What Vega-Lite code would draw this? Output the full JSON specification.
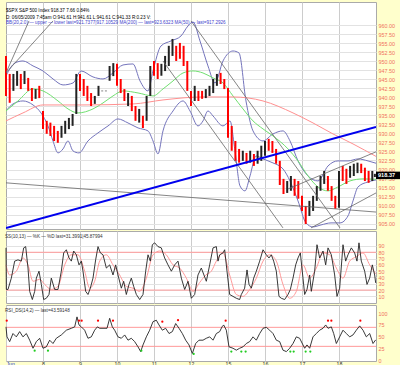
{
"$schema":"https://vega.github.io/schema/vega-lite/v6.json",
"background":"#FFFFCC",
"padding":{"left":3,"top":1,"right":0,"bottom":0},
"spacing":0,
"resolve":{"scale":{"color":"independent"}},
"config":{
 "view":{"stroke":"#AAAAAA","fill":"#FFFFFF"},
 "font":"Liberation Sans",
 "axis":{"labelFont":"Liberation Sans","labelFontSize":5.4,"gridColor":"#DDDDDD","gridWidth":1,"domain":false,"ticks":false,"labelOverlap":false}
},
"datasets":{
"px":[
{"t":0.0,"p2":951.5,"p":940.4,"c":"dn"},{"t":0.1,"p2":946.5,"p":938.5,"c":"dn"},{"t":0.2,"p2":946.5,"p":941.8,"c":"up"},{"t":0.3,"p2":947.3,"p":943.2,"c":"up"},{"t":0.4,"p2":946.5,"p":942.3,"c":"dn"},{"t":0.5,"p2":947.3,"p":943.7,"c":"up"},{"t":0.6,"p2":945.4,"p":941.8,"c":"dn"},{"t":0.7,"p2":942.6,"p":939.0,"c":"dn"},{"t":0.8,"p2":942.3,"p":939.6,"c":"up"},{"t":0.9,"p2":943.2,"p":939.8,"c":"dn"},
{"t":1.0,"p2":936.2,"p":931.2,"c":"dn"},{"t":1.1,"p2":933.5,"p":929.9,"c":"dn"},{"t":1.2,"p2":933.0,"p":929.3,"c":"dn"},{"t":1.3,"p2":932.1,"p":927.9,"c":"dn"},{"t":1.4,"p2":930.7,"p":927.4,"c":"dn"},{"t":1.5,"p2":932.1,"p":928.8,"c":"up"},{"t":1.6,"p2":933.5,"p":929.9,"c":"up"},{"t":1.7,"p2":934.3,"p":931.2,"c":"up"},{"t":1.8,"p2":935.4,"p":932.1,"c":"up"},{"t":1.9,"p2":946.5,"p":935.4,"c":"up"},
{"t":2.0,"p2":946.5,"p":941.8,"c":"dn"},{"t":2.1,"p2":945.1,"p":940.4,"c":"dn"},{"t":2.2,"p2":943.2,"p":939.0,"c":"dn"},{"t":2.3,"p2":941.2,"p":937.6,"c":"dn"},{"t":2.4,"p2":940.4,"p":938.2,"c":"up"},{"t":2.5,"p2":943.2,"p":940.4,"c":"up"},{"t":2.6,"p2":942.0,"p":941.6,"c":"flat"},{"t":2.7,"p2":942.0,"p":941.6,"c":"flat"},{"t":2.8,"p2":948.7,"p":944.6,"c":"up"},{"t":2.9,"p2":949.5,"p":945.9,"c":"up"},
{"t":3.0,"p2":949.3,"p":943.2,"c":"dn"},{"t":3.1,"p2":945.1,"p":941.2,"c":"dn"},{"t":3.2,"p2":942.3,"p":939.0,"c":"dn"},{"t":3.3,"p2":941.2,"p":937.6,"c":"up"},{"t":3.4,"p2":940.4,"p":936.2,"c":"dn"},{"t":3.5,"p2":937.6,"p":933.5,"c":"dn"},{"t":3.6,"p2":936.8,"p":933.0,"c":"up"},{"t":3.7,"p2":934.9,"p":931.5,"c":"dn"},{"t":3.8,"p2":940.4,"p":933.5,"c":"up"},{"t":3.9,"p2":948.7,"p":940.4,"c":"up"},
{"t":4.0,"p2":950.1,"p":946.0,"c":"dn"},{"t":4.1,"p2":949.5,"p":945.1,"c":"dn"},{"t":4.2,"p2":949.3,"p":946.0,"c":"up"},{"t":4.3,"p2":951.5,"p":947.3,"c":"up"},{"t":4.4,"p2":954.3,"p":948.7,"c":"up"},{"t":4.5,"p2":956.2,"p":951.5,"c":"up"},{"t":4.6,"p2":954.3,"p":950.1,"c":"dn"},{"t":4.7,"p2":955.1,"p":950.7,"c":"dn"},{"t":4.8,"p2":954.3,"p":948.7,"c":"dn"},{"t":4.9,"p2":950.1,"p":941.8,"c":"dn"},
{"t":5.0,"p2":941.8,"p":937.6,"c":"dn"},{"t":5.1,"p2":943.2,"p":939.0,"c":"up"},{"t":5.2,"p2":941.8,"p":939.0,"c":"dn"},{"t":5.3,"p2":941.8,"p":939.6,"c":"dn"},{"t":5.4,"p2":942.3,"p":939.8,"c":"up"},{"t":5.5,"p2":943.2,"p":940.4,"c":"up"},{"t":5.6,"p2":945.1,"p":941.2,"c":"up"},{"t":5.7,"p2":946.5,"p":943.2,"c":"up"},{"t":5.8,"p2":946.8,"p":943.7,"c":"dn"},{"t":5.9,"p2":945.1,"p":942.3,"c":"dn"},
{"t":6.0,"p2":942.6,"p":928.8,"c":"dn"},{"t":6.1,"p2":932.1,"p":925.2,"c":"dn"},{"t":6.2,"p2":927.9,"p":922.4,"c":"dn"},{"t":6.3,"p2":925.7,"p":921.9,"c":"dn"},{"t":6.4,"p2":925.2,"p":922.4,"c":"up"},{"t":6.5,"p2":924.6,"p":921.6,"c":"dn"},{"t":6.6,"p2":925.2,"p":921.9,"c":"up"},{"t":6.7,"p2":924.3,"p":921.0,"c":"dn"},{"t":6.8,"p2":925.2,"p":921.6,"c":"up"},{"t":6.9,"p2":926.6,"p":922.4,"c":"up"},
{"t":7.0,"p2":927.9,"p":923.8,"c":"up"},{"t":7.1,"p2":928.5,"p":925.2,"c":"dn"},{"t":7.2,"p2":927.9,"p":924.6,"c":"dn"},{"t":7.3,"p2":925.7,"p":921.6,"c":"dn"},{"t":7.4,"p2":922.4,"p":915.7,"c":"dn"},{"t":7.5,"p2":917.4,"p":913.2,"c":"dn"},{"t":7.6,"p2":916.8,"p":913.5,"c":"up"},{"t":7.7,"p2":918.2,"p":914.1,"c":"up"},{"t":7.8,"p2":917.4,"p":912.7,"c":"dn"},{"t":7.9,"p2":916.8,"p":911.9,"c":"dn"},
{"t":8.0,"p2":912.7,"p":908.5,"c":"dn"},{"t":8.1,"p2":909.9,"p":904.9,"c":"dn"},{"t":8.2,"p2":911.3,"p":907.1,"c":"up"},{"t":8.3,"p2":912.7,"p":908.5,"c":"up"},{"t":8.4,"p2":915.4,"p":911.3,"c":"up"},{"t":8.5,"p2":918.2,"p":914.1,"c":"up"},{"t":8.6,"p2":919.6,"p":916.0,"c":"up"},{"t":8.7,"p2":918.2,"p":914.1,"c":"dn"},{"t":8.8,"p2":915.4,"p":911.3,"c":"dn"},{"t":8.9,"p2":912.7,"p":909.1,"c":"dn"},
{"t":9.0,"p2":919.6,"p":909.4,"c":"up"},{"t":9.1,"p2":921.0,"p":916.8,"c":"dn"},{"t":9.2,"p2":920.2,"p":916.0,"c":"dn"},{"t":9.3,"p2":921.0,"p":917.7,"c":"up"},{"t":9.4,"p2":921.6,"p":918.2,"c":"up"},{"t":9.5,"p2":921.9,"p":919.0,"c":"up"},{"t":9.6,"p2":921.6,"p":919.0,"c":"dn"},{"t":9.7,"p2":920.5,"p":916.8,"c":"dn"},{"t":9.8,"p2":919.6,"p":916.3,"c":"dn"},{"t":9.9,"p2":919.6,"p":916.8,"c":"up"},{"t":9.97,"p2":918.8,"p":917.9,"c":"up"}
],
"curves":[
{"k":"bbu","t":0,"p":945.95},{"k":"bbu","t":0.243,"p":949.55},{"k":"bbu","t":0.459,"p":950.1},{"k":"bbu","t":0.73,"p":948.72},{"k":"bbu","t":1.0,"p":947.33},{"k":"bbu","t":1.27,"p":945.11},{"k":"bbu","t":1.541,"p":943.45},{"k":"bbu","t":1.811,"p":944.0},{"k":"bbu","t":2.027,"p":947.33},{"k":"bbu","t":2.351,"p":945.67},{"k":"bbu","t":2.622,"p":945.11},{"k":"bbu","t":2.892,"p":946.77},{"k":"bbu","t":3.162,"p":948.99},{"k":"bbu","t":3.432,"p":949.27},{"k":"bbu","t":3.622,"p":944.56},{"k":"bbu","t":3.838,"p":941.79},{"k":"bbu","t":3.973,"p":947.33},{"k":"bbu","t":4.189,"p":954.26},{"k":"bbu","t":4.459,"p":955.65},{"k":"bbu","t":4.73,"p":957.03},{"k":"bbu","t":4.919,"p":959.81},{"k":"bbu","t":5.054,"p":960.91},{"k":"bbu","t":5.243,"p":955.65},{"k":"bbu","t":5.459,"p":948.72},{"k":"bbu","t":5.649,"p":944.0},{"k":"bbu","t":5.865,"p":950.1},{"k":"bbu","t":6.135,"p":952.87},{"k":"bbu","t":6.297,"p":952.32},{"k":"bbu","t":6.486,"p":939.01},{"k":"bbu","t":6.676,"p":930.7},{"k":"bbu","t":6.946,"p":927.92},{"k":"bbu","t":7.216,"p":929.86},{"k":"bbu","t":7.486,"p":930.7},{"k":"bbu","t":7.676,"p":927.92},{"k":"bbu","t":7.892,"p":922.38},{"k":"bbu","t":8.162,"p":918.22},{"k":"bbu","t":8.432,"p":916.83},{"k":"bbu","t":8.703,"p":920.99},{"k":"bbu","t":8.973,"p":922.38},{"k":"bbu","t":9.243,"p":922.38},{"k":"bbu","t":9.514,"p":922.93},{"k":"bbu","t":9.784,"p":922.38},{"k":"bbu","t":10.0,"p":921.74},
{"k":"bbl","t":0,"p":936.24},{"k":"bbl","t":0.189,"p":938.18},{"k":"bbl","t":0.459,"p":939.01},{"k":"bbl","t":0.73,"p":937.9},{"k":"bbl","t":0.946,"p":935.69},{"k":"bbl","t":1.135,"p":932.08},{"k":"bbl","t":1.27,"p":927.92},{"k":"bbl","t":1.405,"p":924.6},{"k":"bbl","t":1.541,"p":925.71},{"k":"bbl","t":1.676,"p":927.92},{"k":"bbl","t":1.811,"p":925.15},{"k":"bbl","t":1.973,"p":924.6},{"k":"bbl","t":2.216,"p":927.92},{"k":"bbl","t":2.486,"p":930.14},{"k":"bbl","t":2.757,"p":932.08},{"k":"bbl","t":3.027,"p":934.02},{"k":"bbl","t":3.297,"p":932.91},{"k":"bbl","t":3.568,"p":931.53},{"k":"bbl","t":3.838,"p":930.7},{"k":"bbl","t":3.973,"p":927.92},{"k":"bbl","t":4.108,"p":924.32},{"k":"bbl","t":4.243,"p":930.7},{"k":"bbl","t":4.514,"p":936.24},{"k":"bbl","t":4.784,"p":939.01},{"k":"bbl","t":4.973,"p":936.24},{"k":"bbl","t":5.189,"p":932.08},{"k":"bbl","t":5.324,"p":933.47},{"k":"bbl","t":5.459,"p":936.24},{"k":"bbl","t":5.595,"p":934.85},{"k":"bbl","t":5.865,"p":932.08},{"k":"bbl","t":6.054,"p":933.47},{"k":"bbl","t":6.189,"p":925.15},{"k":"bbl","t":6.324,"p":915.45},{"k":"bbl","t":6.459,"p":914.06},{"k":"bbl","t":6.595,"p":918.22},{"k":"bbl","t":6.757,"p":923.76},{"k":"bbl","t":6.946,"p":922.93},{"k":"bbl","t":7.216,"p":921.82},{"k":"bbl","t":7.486,"p":920.16},{"k":"bbl","t":7.676,"p":916.83},{"k":"bbl","t":7.892,"p":911.29},{"k":"bbl","t":8.108,"p":905.19},{"k":"bbl","t":8.297,"p":904.08},{"k":"bbl","t":8.514,"p":904.63},{"k":"bbl","t":8.784,"p":905.19},{"k":"bbl","t":9.027,"p":905.19},{"k":"bbl","t":9.243,"p":907.13},{"k":"bbl","t":9.378,"p":911.29},{"k":"bbl","t":9.514,"p":915.17},{"k":"bbl","t":9.784,"p":916.56},{"k":"bbl","t":10.0,"p":917.11},
{"k":"ma50","t":0,"p":936.24},{"k":"ma50","t":0.324,"p":939.01},{"k":"ma50","t":0.73,"p":942.34},{"k":"ma50","t":1.0,"p":941.79},{"k":"ma50","t":1.405,"p":939.01},{"k":"ma50","t":1.676,"p":936.8},{"k":"ma50","t":1.946,"p":935.69},{"k":"ma50","t":2.351,"p":936.8},{"k":"ma50","t":2.622,"p":938.46},{"k":"ma50","t":2.892,"p":940.4},{"k":"ma50","t":3.162,"p":941.79},{"k":"ma50","t":3.568,"p":941.23},{"k":"ma50","t":3.973,"p":940.4},{"k":"ma50","t":4.243,"p":942.34},{"k":"ma50","t":4.514,"p":944.56},{"k":"ma50","t":4.784,"p":946.77},{"k":"ma50","t":5.054,"p":947.33},{"k":"ma50","t":5.324,"p":946.77},{"k":"ma50","t":5.595,"p":945.39},{"k":"ma50","t":5.865,"p":944.0},{"k":"ma50","t":6.135,"p":940.4},{"k":"ma50","t":6.405,"p":936.8},{"k":"ma50","t":6.676,"p":933.47},{"k":"ma50","t":6.946,"p":931.25},{"k":"ma50","t":7.216,"p":929.31},{"k":"ma50","t":7.622,"p":925.71},{"k":"ma50","t":7.892,"p":922.38},{"k":"ma50","t":8.162,"p":918.22},{"k":"ma50","t":8.432,"p":915.17},{"k":"ma50","t":8.703,"p":914.06},{"k":"ma50","t":8.973,"p":915.17},{"k":"ma50","t":9.297,"p":916.83},{"k":"ma50","t":9.649,"p":917.4},{"k":"ma50","t":10.0,"p":917.29},
{"k":"ma200","t":0,"p":933.47},{"k":"ma200","t":0.459,"p":935.69},{"k":"ma200","t":1.0,"p":937.9},{"k":"ma200","t":2.081,"p":937.9},{"k":"ma200","t":3.432,"p":938.18},{"k":"ma200","t":4.243,"p":939.29},{"k":"ma200","t":5.324,"p":940.12},{"k":"ma200","t":6.135,"p":940.12},{"k":"ma200","t":6.946,"p":939.01},{"k":"ma200","t":7.757,"p":935.69},{"k":"ma200","t":8.297,"p":932.91},{"k":"ma200","t":8.838,"p":929.86},{"k":"ma200","t":9.378,"p":927.09},{"k":"ma200","t":10.0,"p":923.63}
],
"tl":[
{"k":"blue","id":"b1","t":0,"p":903.8},{"k":"blue","id":"b1","t":10,"p":931.8},
{"k":"gray","id":"g1","t":0,"p":916.3},{"k":"gray","id":"g1","t":10,"p":908.2},
{"k":"gray","id":"f1","t":0,"p":946.8},{"k":"gray","id":"f1","t":0.622,"p":961.2},
{"k":"gray","id":"f2","t":0,"p":946.8},{"k":"gray","id":"f2","t":1.27,"p":961.2},
{"k":"gray","id":"d1","t":4.243,"p":950.1},{"k":"gray","id":"d1","t":7.486,"p":903.8},
{"k":"gray","id":"d2","t":5.0,"p":961.2},{"k":"gray","id":"d2","t":9.027,"p":903.8},
{"k":"gray","id":"u1","t":7.622,"p":914.6},{"k":"gray","id":"u1","t":10,"p":924.9},
{"k":"gray","id":"u2","t":8.243,"p":903.8},{"k":"gray","id":"u2","t":10,"p":913.5}
],
"sslv":[{"t":0,"v":20},{"t":10,"v":20},{"t":0,"v":80},{"t":10,"v":80}],
"rsilv":[{"t":0,"v":30},{"t":10,"v":30},{"t":0,"v":70},{"t":10,"v":70}],
"ss":[
{"s":"K","t":0,"v":87},{"s":"K","t":0.009,"v":21},{"s":"K","t":0.054,"v":21},{"s":"K","t":0.144,"v":39},{"s":"K","t":0.234,"v":66},{"s":"K","t":0.324,"v":68},{"s":"K","t":0.414,"v":66},{"s":"K","t":0.478,"v":87},{"s":"K","t":0.532,"v":89},{"s":"K","t":0.595,"v":55},{"s":"K","t":0.64,"v":18},{"s":"K","t":0.712,"v":5},{"s":"K","t":0.775,"v":18},{"s":"K","t":0.82,"v":39},{"s":"K","t":0.892,"v":50},{"s":"K","t":0.955,"v":29},{"s":"K","t":1.018,"v":5},{"s":"K","t":1.09,"v":7},{"s":"K","t":1.162,"v":13},{"s":"K","t":1.225,"v":39},{"s":"K","t":1.315,"v":21},{"s":"K","t":1.405,"v":21},{"s":"K","t":1.495,"v":50},{"s":"K","t":1.559,"v":79},{"s":"K","t":1.631,"v":84},{"s":"K","t":1.703,"v":71},{"s":"K","t":1.766,"v":66},{"s":"K","t":1.829,"v":82},{"s":"K","t":1.901,"v":76},{"s":"K","t":1.973,"v":60},{"s":"K","t":2.036,"v":66},{"s":"K","t":2.081,"v":50},{"s":"K","t":2.153,"v":18},{"s":"K","t":2.216,"v":13},{"s":"K","t":2.279,"v":23},{"s":"K","t":2.351,"v":39},{"s":"K","t":2.423,"v":68},{"s":"K","t":2.487,"v":89},{"s":"K","t":2.55,"v":79},{"s":"K","t":2.622,"v":76},{"s":"K","t":2.712,"v":55},{"s":"K","t":2.802,"v":60},{"s":"K","t":2.892,"v":44},{"s":"K","t":2.964,"v":60},{"s":"K","t":3.027,"v":44},{"s":"K","t":3.117,"v":23},{"s":"K","t":3.18,"v":34},{"s":"K","t":3.252,"v":13},{"s":"K","t":3.324,"v":29},{"s":"K","t":3.387,"v":39},{"s":"K","t":3.45,"v":26},{"s":"K","t":3.523,"v":13},{"s":"K","t":3.613,"v":5},{"s":"K","t":3.703,"v":13},{"s":"K","t":3.775,"v":50},{"s":"K","t":3.838,"v":76},{"s":"K","t":3.901,"v":66},{"s":"K","t":3.955,"v":92},{"s":"K","t":4.018,"v":95},{"s":"K","t":4.108,"v":89},{"s":"K","t":4.198,"v":87},{"s":"K","t":4.288,"v":71},{"s":"K","t":4.378,"v":60},{"s":"K","t":4.469,"v":50},{"s":"K","t":4.559,"v":60},{"s":"K","t":4.649,"v":66},{"s":"K","t":4.739,"v":39},{"s":"K","t":4.829,"v":21},{"s":"K","t":4.919,"v":34},{"s":"K","t":5.009,"v":7},{"s":"K","t":5.099,"v":13},{"s":"K","t":5.189,"v":44},{"s":"K","t":5.279,"v":55},{"s":"K","t":5.414,"v":34},{"s":"K","t":5.505,"v":60},{"s":"K","t":5.595,"v":87},{"s":"K","t":5.685,"v":89},{"s":"K","t":5.73,"v":66},{"s":"K","t":5.775,"v":76},{"s":"K","t":5.865,"v":79},{"s":"K","t":5.91,"v":84},{"s":"K","t":5.973,"v":50},{"s":"K","t":6.045,"v":13},{"s":"K","t":6.135,"v":10},{"s":"K","t":6.225,"v":7},{"s":"K","t":6.315,"v":5},{"s":"K","t":6.36,"v":13},{"s":"K","t":6.45,"v":23},{"s":"K","t":6.514,"v":52},{"s":"K","t":6.568,"v":29},{"s":"K","t":6.631,"v":23},{"s":"K","t":6.694,"v":39},{"s":"K","t":6.766,"v":50},{"s":"K","t":6.856,"v":66},{"s":"K","t":6.946,"v":84},{"s":"K","t":7.036,"v":76},{"s":"K","t":7.108,"v":71},{"s":"K","t":7.171,"v":76},{"s":"K","t":7.234,"v":66},{"s":"K","t":7.306,"v":50},{"s":"K","t":7.378,"v":10},{"s":"K","t":7.441,"v":7},{"s":"K","t":7.531,"v":5},{"s":"K","t":7.622,"v":13},{"s":"K","t":7.685,"v":21},{"s":"K","t":7.757,"v":39},{"s":"K","t":7.829,"v":60},{"s":"K","t":7.892,"v":71},{"s":"K","t":7.955,"v":79},{"s":"K","t":8.027,"v":39},{"s":"K","t":8.072,"v":13},{"s":"K","t":8.135,"v":21},{"s":"K","t":8.207,"v":44},{"s":"K","t":8.252,"v":18},{"s":"K","t":8.342,"v":50},{"s":"K","t":8.405,"v":92},{"s":"K","t":8.477,"v":71},{"s":"K","t":8.568,"v":82},{"s":"K","t":8.64,"v":60},{"s":"K","t":8.703,"v":87},{"s":"K","t":8.793,"v":76},{"s":"K","t":8.883,"v":44},{"s":"K","t":8.946,"v":10},{"s":"K","t":9.018,"v":23},{"s":"K","t":9.108,"v":92},{"s":"K","t":9.18,"v":66},{"s":"K","t":9.243,"v":76},{"s":"K","t":9.333,"v":87},{"s":"K","t":9.423,"v":79},{"s":"K","t":9.486,"v":66},{"s":"K","t":9.54,"v":95},{"s":"K","t":9.603,"v":66},{"s":"K","t":9.694,"v":50},{"s":"K","t":9.757,"v":29},{"s":"K","t":9.829,"v":39},{"s":"K","t":9.901,"v":60},{"s":"K","t":9.964,"v":44},{"s":"K","t":9.991,"v":31.4},
{"s":"D","t":0,"v":60},{"s":"D","t":0.099,"v":44},{"s":"D","t":0.279,"v":50},{"s":"D","t":0.459,"v":71},{"s":"D","t":0.595,"v":60},{"s":"D","t":0.73,"v":34},{"s":"D","t":0.91,"v":37},{"s":"D","t":1.045,"v":29},{"s":"D","t":1.225,"v":21},{"s":"D","t":1.405,"v":26},{"s":"D","t":1.586,"v":60},{"s":"D","t":1.766,"v":76},{"s":"D","t":1.946,"v":76},{"s":"D","t":2.126,"v":50},{"s":"D","t":2.261,"v":23},{"s":"D","t":2.396,"v":34},{"s":"D","t":2.532,"v":66},{"s":"D","t":2.712,"v":76},{"s":"D","t":2.892,"v":60},{"s":"D","t":3.072,"v":44},{"s":"D","t":3.252,"v":26},{"s":"D","t":3.432,"v":23},{"s":"D","t":3.613,"v":18},{"s":"D","t":3.793,"v":39},{"s":"D","t":3.973,"v":76},{"s":"D","t":4.153,"v":82},{"s":"D","t":4.333,"v":76},{"s":"D","t":4.514,"v":60},{"s":"D","t":4.694,"v":55},{"s":"D","t":4.874,"v":39},{"s":"D","t":5.054,"v":18},{"s":"D","t":5.234,"v":32},{"s":"D","t":5.4,"v":44},{"s":"D","t":5.55,"v":50},{"s":"D","t":5.685,"v":66},{"s":"D","t":5.865,"v":79},{"s":"D","t":6.045,"v":44},{"s":"D","t":6.225,"v":13},{"s":"D","t":6.405,"v":10},{"s":"D","t":6.586,"v":21},{"s":"D","t":6.766,"v":39},{"s":"D","t":6.946,"v":66},{"s":"D","t":7.126,"v":76},{"s":"D","t":7.306,"v":66},{"s":"D","t":7.486,"v":29},{"s":"D","t":7.667,"v":7},{"s":"D","t":7.847,"v":18},{"s":"D","t":8.027,"v":60},{"s":"D","t":8.207,"v":39},{"s":"D","t":8.387,"v":55},{"s":"D","t":8.568,"v":79},{"s":"D","t":8.748,"v":76},{"s":"D","t":8.928,"v":55},{"s":"D","t":9.108,"v":39},{"s":"D","t":9.288,"v":66},{"s":"D","t":9.468,"v":73},{"s":"D","t":9.649,"v":79},{"s":"D","t":9.829,"v":60},{"s":"D","t":9.991,"v":45.9}
],
"rsi":[
{"t":0,"v":71},{"t":0.027,"v":50},{"t":0.099,"v":40},{"t":0.189,"v":57},{"t":0.279,"v":50},{"t":0.369,"v":61},{"t":0.459,"v":50},{"t":0.55,"v":57},{"t":0.64,"v":43},{"t":0.73,"v":26},{"t":0.82,"v":40},{"t":0.91,"v":47},{"t":1.0,"v":26},{"t":1.09,"v":29},{"t":1.18,"v":43},{"t":1.27,"v":36},{"t":1.36,"v":47},{"t":1.495,"v":54},{"t":1.631,"v":64},{"t":1.766,"v":68},{"t":1.856,"v":71},{"t":1.919,"v":92},{"t":1.973,"v":75},{"t":2.036,"v":71},{"t":2.126,"v":64},{"t":2.216,"v":47},{"t":2.306,"v":50},{"t":2.396,"v":64},{"t":2.469,"v":71},{"t":2.532,"v":68},{"t":2.622,"v":68},{"t":2.73,"v":68},{"t":2.802,"v":89},{"t":2.874,"v":71},{"t":2.937,"v":64},{"t":3.027,"v":50},{"t":3.117,"v":47},{"t":3.207,"v":54},{"t":3.297,"v":43},{"t":3.387,"v":47},{"t":3.477,"v":40},{"t":3.568,"v":29},{"t":3.64,"v":19},{"t":3.703,"v":33},{"t":3.793,"v":50},{"t":3.883,"v":64},{"t":3.973,"v":82},{"t":4.063,"v":85},{"t":4.135,"v":75},{"t":4.225,"v":64},{"t":4.315,"v":68},{"t":4.406,"v":57},{"t":4.496,"v":61},{"t":4.586,"v":78},{"t":4.676,"v":68},{"t":4.766,"v":57},{"t":4.856,"v":43},{"t":4.946,"v":33},{"t":5.036,"v":15},{"t":5.126,"v":36},{"t":5.216,"v":43},{"t":5.324,"v":43},{"t":5.414,"v":47},{"t":5.505,"v":50},{"t":5.595,"v":43},{"t":5.685,"v":57},{"t":5.775,"v":61},{"t":5.838,"v":71},{"t":5.883,"v":75},{"t":5.955,"v":64},{"t":6.027,"v":29},{"t":6.135,"v":26},{"t":6.225,"v":22},{"t":6.315,"v":26},{"t":6.405,"v":29},{"t":6.495,"v":36},{"t":6.586,"v":40},{"t":6.676,"v":50},{"t":6.766,"v":43},{"t":6.856,"v":57},{"t":6.946,"v":68},{"t":7.036,"v":70},{"t":7.126,"v":64},{"t":7.216,"v":57},{"t":7.306,"v":43},{"t":7.396,"v":40},{"t":7.486,"v":22},{"t":7.577,"v":19},{"t":7.667,"v":26},{"t":7.757,"v":36},{"t":7.847,"v":50},{"t":7.937,"v":47},{"t":8.027,"v":33},{"t":8.072,"v":26},{"t":8.135,"v":33},{"t":8.207,"v":26},{"t":8.297,"v":50},{"t":8.387,"v":57},{"t":8.477,"v":64},{"t":8.568,"v":68},{"t":8.64,"v":75},{"t":8.703,"v":68},{"t":8.793,"v":71},{"t":8.856,"v":57},{"t":8.928,"v":36},{"t":9.018,"v":50},{"t":9.108,"v":64},{"t":9.198,"v":57},{"t":9.288,"v":50},{"t":9.378,"v":54},{"t":9.468,"v":64},{"t":9.559,"v":73},{"t":9.649,"v":64},{"t":9.739,"v":50},{"t":9.829,"v":57},{"t":9.919,"v":36},{"t":9.991,"v":43.6}
],
"sig":[
{"t":0.02,"v":84,"s":"ob"},{"t":1.973,"v":84,"s":"ob"},{"t":2.045,"v":84,"s":"ob"},{"t":2.487,"v":84,"s":"ob"},{"t":2.892,"v":84,"s":"ob"},{"t":4.225,"v":82,"s":"ob"},{"t":4.649,"v":85,"s":"ob"},{"t":5.937,"v":84,"s":"ob"},{"t":8.703,"v":84,"s":"ob"},{"t":8.793,"v":84,"s":"ob"},{"t":9.577,"v":84,"s":"ob"},
{"t":0.775,"v":21,"s":"os"},{"t":1.135,"v":21,"s":"os"},{"t":3.658,"v":21,"s":"os"},{"t":5.072,"v":14,"s":"os"},{"t":6.09,"v":19,"s":"os"},{"t":6.36,"v":19,"s":"os"},{"t":6.477,"v":19,"s":"os"},{"t":7.685,"v":19,"s":"os"},{"t":7.775,"v":19,"s":"os"},{"t":8.099,"v":19,"s":"os"},{"t":8.225,"v":19,"s":"os"}
],
"last":[{"t":10,"p":918.37,"txt":"918.37"}]
},
"vconcat":[
{
 "width":370,"height":227,
 "resolve":{"scale":{"color":"independent"}},
 "title":{"text":["$SPX S&P 500 Index  918.37   7.66  0.84%","D: 06/05/2009   7:45am O:941.61 H:941.61 L:941.61 C:941.33 R:0.23 V:"],"subtitle":"BB(20,2.0) — upper — lower last=921.7377|917.10529  MA(200) — last=923.6323  MA(50) — last=917.2926","anchor":"start","orient":"top","offset":-23,"dx":1,"fontSize":4.6,"fontWeight":"normal","color":"#000000","lineHeight":7,"subtitleFontSize":4.6,"subtitleColor":"#4444CC","subtitleLineHeight":6,"subtitlePadding":0.5,"font":"Liberation Sans","subtitleFont":"Liberation Sans"},
 "encoding":{
  "x":{"field":"t","type":"quantitative","title":null,"scale":{"domain":[0,10],"nice":false,"zero":false},"axis":{"values":[1,2,3,4,5,6,7,8,9],"labels":false,"grid":true,"gridColor":"#CCCCCC","title":null,"minExtent":0,"maxExtent":0}},
  "y":{"field":"p","type":"quantitative","title":null,"scale":{"domain":[903.5,966.45],"nice":false,"zero":false},"axis":{"orient":"right","values":[905,907.5,910,912.5,915,917.5,920,922.5,925,927.5,930,932.5,935,937.5,940,942.5,945,947.5,950,952.5,955,957.5,960],"format":".2f","labelColor":"#F07060","labelPadding":2,"grid":true,"gridColor":"#E2E2E2","title":null,"minExtent":27,"maxExtent":27,"labelOverlap":false}}
 },
 "layer":[
  {"data":{"name":"curves"},"mark":{"type":"line","strokeWidth":1,"interpolate":"monotone","clip":true},
   "encoding":{
    "detail":{"field":"k"},
    "color":{"field":"k","type":"nominal","scale":{"domain":["bbu","bbl","ma50","ma200"],"range":["#7474BC","#7474BC","#70E070","#FF9090"]},"legend":null}
   }},
  {"data":{"name":"px"},"mark":{"type":"rule","strokeWidth":2},
   "encoding":{
    "y2":{"field":"p2"},
    "color":{"field":"c","type":"nominal","scale":{"domain":["up","dn","flat"],"range":["#222222","#FF0000","#AAAAAA"]},"legend":null}
   }},
  {"data":{"name":"tl"},"transform":[{"filter":"datum.k == 'gray'"}],"mark":{"type":"line","strokeWidth":0.8,"color":"#666666","clip":true},
   "encoding":{"detail":{"field":"id"}}},
  {"data":{"name":"tl"},"transform":[{"filter":"datum.k == 'blue'"}],"mark":{"type":"line","strokeWidth":2,"color":"#0000EE","clip":true},
   "encoding":{"detail":{"field":"id"}}},
  {"data":{"name":"last"},"mark":{"type":"point","filled":true,"opacity":1,"color":"#000000","size":100,"shape":"M0,-0.75H5.4V0.75H0Z"},
   "encoding":{}},
  {"data":{"name":"last"},"mark":{"type":"text","align":"left","baseline":"middle","dx":2,"color":"#FFFFFF","fontSize":5.6,"fontWeight":"bold","font":"Liberation Sans"},
   "encoding":{"text":{"field":"txt"}}}
 ]
},
{
 "width":370,"height":72,
 "title":{"text":"SS(10,13) — %K — %D last=31.3991|45.87994","anchor":"start","orient":"top","offset":-8,"dx":1,"fontSize":4.6,"fontWeight":"normal","color":"#333333","font":"Liberation Sans"},
 "encoding":{
  "x":{"field":"t","type":"quantitative","title":null,"scale":{"domain":[0,10],"nice":false,"zero":false},"axis":{"values":[1,2,3,4,5,6,7,8,9],"labels":false,"grid":true,"gridColor":"#CCCCCC","title":null,"minExtent":0,"maxExtent":0}},
  "y":{"field":"v","type":"quantitative","title":null,"scale":{"domain":[-0.5,113.8],"nice":false,"zero":false},"axis":{"orient":"right","values":[10,20,30,40,50,60,70,80,90],"labelColor":"#F07060","labelPadding":2,"grid":true,"gridColor":"#E2E2E2","title":null,"minExtent":27,"maxExtent":27,"labelOverlap":false}}
 },
 "layer":[
  {"data":{"name":"sslv"},"mark":{"type":"line","color":"#FF9999","strokeWidth":1},"encoding":{"detail":{"field":"v","type":"nominal"}}},
  {"data":{"name":"ss"},"transform":[{"filter":"datum.s == 'D'"}],"mark":{"type":"line","color":"#FF9A9A","strokeWidth":1,"interpolate":"monotone"},"encoding":{}},
  {"data":{"name":"ss"},"transform":[{"filter":"datum.s == 'K'"}],"mark":{"type":"line","color":"#222222","strokeWidth":0.9},"encoding":{}}
 ]
},
{
 "width":370,"height":56,
 "resolve":{"scale":{"color":"independent"}},
 "title":{"text":"RSI_DS(14,2) — last=43.59148","anchor":"start","orient":"top","offset":-8,"dx":1,"fontSize":4.6,"fontWeight":"normal","color":"#333333","font":"Liberation Sans"},
 "encoding":{
  "x":{"field":"t","type":"quantitative","title":null,"scale":{"domain":[0,10],"nice":false,"zero":false},"axis":{"orient":"bottom","values":[0,1,2,3,4,5,6,7,8,9],"labelExpr":"['Jun','8','9','10','11','12','15','16','17','18'][datum.value]","labelAlign":{"condition":{"test":"datum.value === 0","value":"left"},"value":"center"},"labelColor":{"condition":{"test":"datum.value === 0","value":"#2244CC"},"value":"#333333"},"labelFlush":false,"labelPadding":0,"labelFontSize":5.2,"grid":true,"gridColor":"#CCCCCC","title":null,"minExtent":9,"maxExtent":9}},
  "y":{"field":"v","type":"quantitative","title":null,"scale":{"domain":[-0.8,117],"nice":false,"zero":false},"axis":{"orient":"right","values":[0,25,50,75,100],"labelColor":"#F07060","labelPadding":2,"grid":false,"title":null,"minExtent":27,"maxExtent":27,"labelOverlap":false}}
 },
 "layer":[
  {"data":{"name":"rsilv"},"mark":{"type":"line","color":"#FF9999","strokeWidth":1},"encoding":{"detail":{"field":"v","type":"nominal"}}},
  {"data":{"name":"rsi"},"mark":{"type":"line","color":"#222222","strokeWidth":0.9},"encoding":{}},
  {"data":{"name":"sig"},"mark":{"type":"circle","size":5,"opacity":1},
   "encoding":{"color":{"field":"s","type":"nominal","scale":{"domain":["ob","os"],"range":["#FF0000","#22CC22"]},"legend":null}}}
 ]
}
]
}
